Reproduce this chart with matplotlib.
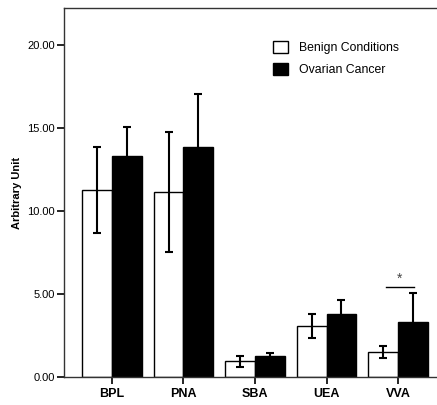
import matplotlib
matplotlib.use("Agg")
import matplotlib.pyplot as plt
import numpy as np
from matplotlib.patches import Patch

plt.rcParams['font.family'] = ['Liberation Sans', 'DejaVu Sans']

categories = ['BPL', 'PNA', 'SBA', 'UEA', 'VVA']
benign = [11.27, 11.13, 0.94, 3.05, 1.51]
benign_err = [2.58, 3.60, 0.35, 0.73, 0.37]
cancer = [13.29, 13.81, 1.24, 3.81, 3.31]
cancer_err = [1.75, 3.20, 0.21, 0.85, 1.75]
yticks = [0, 5, 10, 15, 20]

W, H = 437, 405
fig = plt.figure(figsize=(W / 100, H / 100), dpi=100)
ax = fig.add_axes([64 / W, 28 / H, (446 - 64) / W, (377 - 8) / H])

x = np.arange(len(categories))
bw = 0.415
ax.bar(x - bw / 2, benign, bw, color='white', edgecolor='black', linewidth=1.0, zorder=2)
ax.bar(x + bw / 2, cancer, bw, color='black', edgecolor='black', linewidth=1.0, zorder=2)
ax.errorbar(x - bw / 2, benign, yerr=benign_err, fmt='none', ecolor='black',
            elinewidth=1.5, capsize=2.7, capthick=1.5, zorder=3)
ax.errorbar(x + bw / 2, cancer, yerr=cancer_err, fmt='none', ecolor='black',
            elinewidth=1.5, capsize=2.7, capthick=1.5, zorder=3)

# significance marker for VVA
ax.plot([3.832, 4.224], [5.42, 5.42], color='black', lw=1.0)
ax.text(4.02, 5.9, '*', ha='center', va='center', fontsize=10, color='#444444')

ax.set_xlim(-0.671, 4.671)
ax.set_ylim(0, 22.2)
ax.set_xticks(x)
ax.set_xticklabels(categories, fontsize=9, fontweight='bold')
ax.set_yticks(yticks)
ax.set_yticklabels([f'{v:.2f}' for v in yticks], fontsize=8)
ax.tick_params(axis='both', direction='out', length=5, width=1.2, color='black')
ax.tick_params(axis='x', pad=3)
ax.tick_params(axis='y', pad=1.5)
ax.set_ylabel('Arbitrary Unit', fontsize=8, fontweight='bold', labelpad=4)
for s in ax.spines.values():
    s.set_linewidth(1.0)
    s.set_color('#333333')

handles = [Patch(facecolor='white', edgecolor='black', linewidth=1.0),
           Patch(facecolor='black', edgecolor='black', linewidth=1.0)]
leg = ax.legend(handles, ['Benign Conditions', 'Ovarian Cancer'], loc='upper left',
                bbox_to_anchor=((273 - 64) / (446 - 64), 1 - (41 - 8) / (377 - 8)),
                frameon=False, fontsize=8.8, handlelength=1.2, handleheight=1.1,
                handletextpad=0.95, labelspacing=0.75, borderaxespad=0, borderpad=0)

fig.savefig('out.png', dpi=100)
